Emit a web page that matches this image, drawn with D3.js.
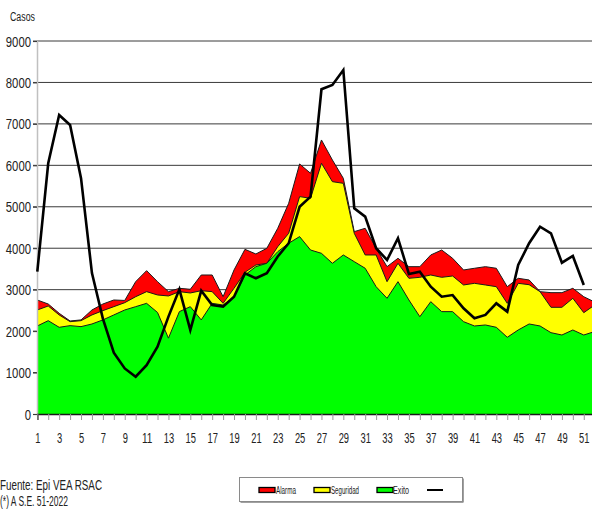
<!DOCTYPE html>
<html><head><meta charset="utf-8">
<script src="https://cdn.jsdelivr.net/npm/d3@7"></script>
<style>body{margin:0;background:#fff}svg{display:block}text{font-family:"Liberation Sans",Arial,sans-serif}</style>
</head><body><svg id="c" width="592" height="510"></svg>
<script>
const weeks = d3.range(1, 53);
const alarma = [2750,2654,2430,2244,2270,2510,2654,2751,2740,3193,3459,3193,2952,3033,3009,3354,3354,2830,3475,3973,3861,3998,4481,5084,6033,5808,6612,6129,5687,4400,4481,3998,3555,3757,3555,3555,3837,3957,3757,3475,3516,3555,3516,3072,3274,3234,2952,2928,2928,3033,2830,2700];
const seguridad = [2510,2606,2390,2228,2252,2390,2494,2590,2686,2830,2952,2872,2848,2952,2920,2975,2952,2670,3033,3420,3595,3636,4037,4360,5245,5205,6050,5606,5566,4360,3837,3837,3193,3636,3274,3298,3354,3298,3330,3113,3153,3113,3072,2670,3153,3120,2952,2574,2574,2792,2445,2630];
const exito = [2124,2252,2092,2132,2108,2172,2270,2390,2510,2590,2670,2450,1830,2470,2590,2270,2670,2630,2830,3354,3555,3636,3917,4120,4280,3957,3877,3636,3837,3676,3516,3072,2792,3193,2751,2348,2710,2470,2470,2228,2124,2148,2092,1851,2027,2172,2124,1962,1906,2027,1906,1990];
const casos2022 = [3435,6050,7215,6975,5690,3400,2300,1480,1100,900,1180,1625,2350,3009,2027,2975,2630,2590,2830,3395,3275,3395,3800,4120,5000,5245,7835,7940,8300,4964,4763,4000,3716,4240,3380,3435,3072,2830,2870,2550,2309,2390,2670,2470,3595,4120,4520,4360,3650,3813,3113];
const yTicks = d3.range(0, 9001, 1000);
const legendNames = ["Alarma", "Seguridad", "Exito", ""];
const footnotes = ["Fuente: Epi VEA RSAC", "(*) A S.E. 51-2022"];

const svg = d3.select("#c");
const x = d3.scaleLinear().domain([1, 52]).range([37.3, 594.7]);
const y = d3.scaleLinear().domain([0, 9000]).range([414, 41]);

// gridlines
svg.append("g").selectAll("line").data(yTicks.filter(v => v > 0)).join("line")
  .attr("x1", 33).attr("x2", 592)
  .attr("y1", d => y(d)).attr("y2", d => y(d))
  .attr("stroke", "#3a3a3a").attr("stroke-width", 1);

// areas
const area = d3.area().x((d, i) => x(weeks[i])).y0(y(0)).y1(d => y(d));
const topLine = d3.line().x((d, i) => x(weeks[i])).y(d => y(d));
[[alarma, "#ff0000"], [seguridad, "#ffff00"], [exito, "#00ff00"]].forEach(([s, c]) => {
  svg.append("path").datum(s).attr("d", area).attr("fill", c);
  svg.append("path").datum(s).attr("d", topLine).attr("fill", "none")
    .attr("stroke", "#1a1a1a").attr("stroke-width", 1);
});

// y axis
const yAxis = svg.append("g").attr("transform", "translate(37,0)")
  .call(d3.axisLeft(y).tickValues(yTicks).tickSize(4).tickFormat(d3.format("d")));
yAxis.select(".domain").attr("stroke", "#c0c0c0").attr("stroke-width", 1.5);
yAxis.selectAll(".tick line").attr("stroke", "#3a3a3a");
yAxis.selectAll(".tick text").attr("x", -6).attr("dy", "0.36em")
  .attr("font-size", 14).attr("fill", "#222")
  .attr("textLength", d => String(d).length * 6.3).attr("lengthAdjust", "spacingAndGlyphs");

// x axis
const xAxis = svg.append("g").attr("transform", "translate(0,414)")
  .call(d3.axisBottom(x).tickValues(weeks).tickSize(6).tickFormat(d => d % 2 ? d : ""));
xAxis.select(".domain").attr("stroke", "#1a1a1a").attr("stroke-width", 1.6);
xAxis.selectAll(".tick line").attr("stroke", "#999");
xAxis.selectAll(".tick text").filter(d => d % 2 === 0).remove();
xAxis.selectAll(".tick text").attr("y", 29).attr("dy", 0)
  .attr("font-size", 14).attr("fill", "#222")
  .attr("textLength", d => String(d).length * 5.2).attr("lengthAdjust", "spacingAndGlyphs");

// current-year line
svg.append("path").datum(casos2022)
  .attr("d", d3.line().x((d, i) => x(weeks[i])).y(d => y(d)))
  .attr("fill", "none").attr("stroke", "#000").attr("stroke-width", 2.6)
  .attr("stroke-linejoin", "miter");

// axis title
svg.append("text").attr("x", 10).attr("y", 21).attr("font-size", 12.5).attr("fill", "#222")
  .attr("textLength", 25).attr("lengthAdjust", "spacingAndGlyphs").text("Casos");

// footnotes
svg.append("text").attr("x", 0).attr("y", 490).attr("font-size", 14.5).attr("fill", "#222")
  .attr("textLength", 102).attr("lengthAdjust", "spacingAndGlyphs").text(footnotes[0]);
svg.append("text").attr("x", 0).attr("y", 506).attr("font-size", 14).attr("fill", "#222")
  .attr("textLength", 68).attr("lengthAdjust", "spacingAndGlyphs").text(footnotes[1]);

// legend
const lg = svg.append("g");
lg.append("rect").attr("x", 240.5).attr("y", 478.5).attr("width", 223).attr("height", 24)
  .attr("fill", "#444");
lg.append("rect").attr("x", 239.5).attr("y", 477.5).attr("width", 223).attr("height", 24)
  .attr("fill", "#fff").attr("stroke", "#8a8a8a");
const items = [
  {n: legendNames[0], c: "#ff0000", sx: 259, tx: 276, tw: 20},
  {n: legendNames[1], c: "#ffff00", sx: 314, tx: 331, tw: 28},
  {n: legendNames[2], c: "#00ff00", sx: 377, tx: 393, tw: 16},
];
items.forEach(it => {
  lg.append("rect").attr("x", it.sx).attr("y", 487.5).attr("width", 16).attr("height", 5)
    .attr("fill", it.c).attr("stroke", "#000").attr("stroke-width", 1.3);
  lg.append("text").attr("x", it.tx).attr("y", 494).attr("font-size", 10).attr("fill", "#222")
    .attr("textLength", it.tw).attr("lengthAdjust", "spacingAndGlyphs").text(it.n);
});
lg.append("line").attr("x1", 427).attr("x2", 443).attr("y1", 490).attr("y2", 490)
  .attr("stroke", "#000").attr("stroke-width", 2);
</script></body></html>
